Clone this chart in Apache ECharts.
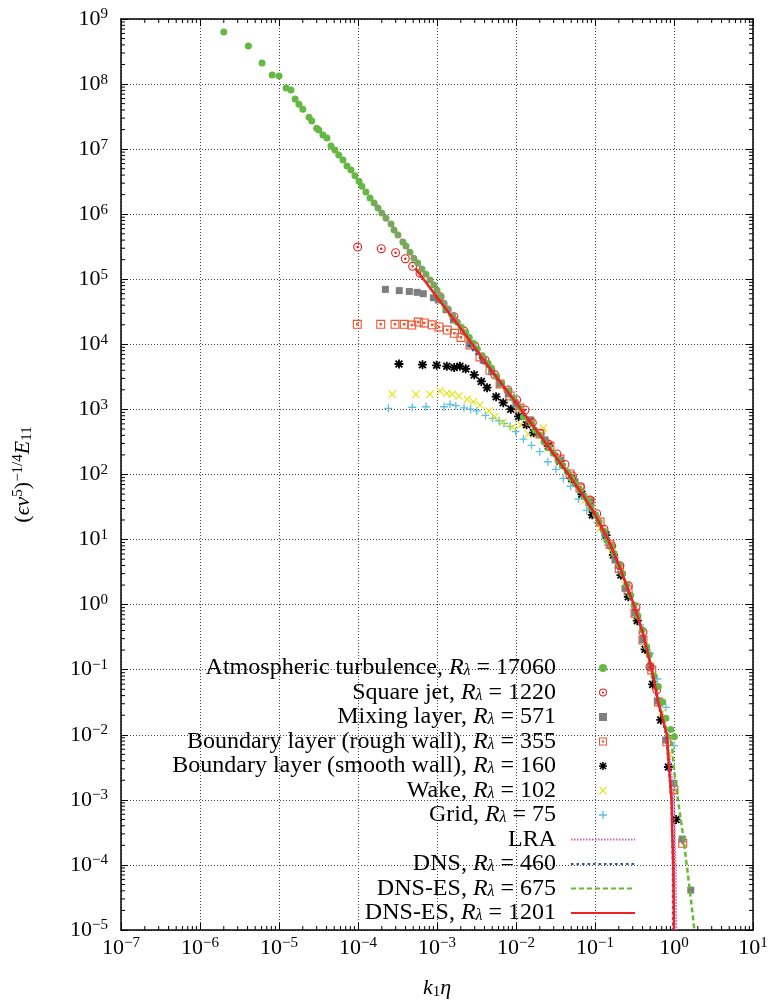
<!DOCTYPE html>
<html>
<head>
<meta charset="utf-8">
<script src="https://cdn.jsdelivr.net/npm/echarts@6.0.0/dist/echarts.min.js"></script>
<style>
  html, body { margin: 0; padding: 0; background: #fff; }
  #chart { width: 768px; height: 1003px; }
</style>
</head>
<body>
<div id="chart"></div>
<script>
// data, [k1*eta, scaled E11]
const atmospheric = [
  [2.0e-6, 6.3e8], [4.1e-6, 3.85e8], [6.1e-6, 2.1e8], [8.2e-6, 1.38e8], [1.0e-5, 1.33e8],
  [1.23e-5, 8.7e7], [1.42e-5, 8.1e7], [1.6e-5, 5.9e7], [1.79e-5, 4.9e7], [2.0e-5, 4.1e7],
  [2.4e-5, 3.1e7], [2.6e-5, 2.7e7], [3.0e-5, 2.1e7], [3.2e-5, 1.97e7], [3.6e-5, 1.65e7],
  [4.05e-5, 1.48e7], [4.55e-5, 1.12e7], [5.1e-5, 9.7e6], [5.7e-5, 8.1e6], [6.45e-5, 6.8e6],
  [7.25e-5, 5.5e6], [8.15e-5, 4.8e6], [9.15e-5, 3.9e6], [1.03e-4, 3.2e6], [1.12e-4, 2.7e6],
  [1.26e-4, 2.2e6], [1.42e-4, 1.77e6], [1.6e-4, 1.49e6], [1.79e-4, 1.25e6], [2.0e-4, 1.04e6],
  [2.26e-4, 8.7e5], [2.62e-4, 7.1e5], [2.86e-4, 5.7e5], [3.2e-4, 4.8e5], [3.7e-4, 3.74e5],
  [4.05e-4, 3.25e5], [4.55e-4, 2.6e5], [5.1e-4, 2.1e5], [5.7e-4, 1.78e5], [6.45e-4, 1.44e5],
  [7.25e-4, 1.2e5], [8.15e-4, 9.75e4], [9.15e-4, 8.2e4], [1.0e-3, 6.8e4], [1.12e-3, 5.5e4],
  [1.23e-3, 4.3e4], [1.39e-3, 3.46e4], [1.58e-3, 2.75e4], [1.81e-3, 2.18e4], [2.03e-3, 1.83e4],
  [2.31e-3, 1.51e4], [2.56e-3, 1.28e4], [2.88e-3, 1.04e4], [3.24e-3, 8.5e3], [3.74e-3, 6.6e3],
  [4.45e-3, 5.1e3], [4.86e-3, 4.3e3], [5.7e-3, 3.2e3], [6.6e-3, 2.5e3], [8.0e-3, 1.94e3],
  [9.25e-3, 1.48e3], [1.1e-2, 1.08e3], [1.24e-2, 7.7e2], [1.58e-2, 6.1e2], [1.74e-2, 4.8e2],
  [2.01e-2, 4.05e2], [2.26e-2, 3.2e2], [2.62e-2, 2.58e2], [2.96e-2, 2.12e2], [3.4e-2, 1.67e2],
  [3.86e-2, 1.36e2], [4.46e-2, 1.1e2], [5.07e-2, 87], [5.74e-2, 71], [6.45e-2, 58],
  [7.26e-2, 46], [8.2e-2, 38], [8.9e-2, 31], [0.102, 24], [0.113, 18.8],
  [0.130, 13.6], [0.141, 9.8], [0.163, 7.8], [0.174, 6.1], [0.203, 4.1],
  [0.224, 3.0], [0.252, 2.0], [0.283, 1.4], [0.312, 0.99], [0.35, 0.67],
  [0.397, 0.41], [0.451, 0.226], [0.486, 0.168], [0.558, 0.080], [0.633, 0.055],
  [0.72, 0.032], [0.79, 0.0179], [0.91, 0.0121], [1.01, 0.0093]
]
const squareJet = [
  [9.9e-5, 3.13e5], [1.97e-4, 2.95e5], [2.99e-4, 2.56e5], [3.97e-4, 2.07e5], [4.92e-4, 1.58e5],
  [6.1e-4, 1.24e5], [1.09e-3, 5.4e4], [1.64e-3, 2.66e4], [2.2e-3, 1.6e4], [3.0e-3, 9.5e3],
  [4.06e-3, 5.7e3], [5.4e-3, 3.4e3], [7.9e-3, 1.99e3], [1.02e-2, 1.4e3], [1.3e-2, 9.8e2],
  [1.61e-2, 6.25e2], [2.01e-2, 4.3e2], [2.56e-2, 2.94e2], [3.3e-2, 2.07e2], [4.17e-2, 1.43e2],
  [5.19e-2, 95], [6.55e-2, 65], [8.65e-2, 40.5], [0.105, 25], [0.13, 14.4],
  [0.163, 8.0], [0.207, 3.96], [0.264, 1.95], [0.33, 0.92], [0.405, 0.38],
  [0.497, 0.11], [0.604, 0.049]
]
const mixingLayer = [
  [2.22e-4, 7.0e4], [3.33e-4, 6.7e4], [4.46e-4, 6.5e4], [5.6e-4, 6.3e4], [6.7e-4, 6.0e4],
  [9.0e-4, 5.2e4], [1.04e-3, 4.8e4], [1.3e-3, 3.4e4], [1.61e-3, 2.37e4], [2.62e-3, 1.01e4],
  [3.85e-3, 5.7e3], [4.92e-3, 3.8e3], [6.26e-3, 2.5e3], [8.0e-3, 1.73e3], [1.0e-2, 1.21e3],
  [1.5e-2, 6.9e2], [2.33e-2, 3.4e2], [3.6e-2, 1.67e2], [5.6e-2, 77], [8.65e-2, 38],
  [0.134, 12.2], [0.179, 4.85], [0.24, 1.78], [0.321, 0.75], [0.402, 0.29],
  [0.507, 0.111], [0.622, 0.033], [0.79, 8.3e-3], [1.0, 1.8e-3], [1.27, 2.5e-4],
  [1.63, 4.1e-5]
]
const roughWall = [
  [9.8e-5, 2.03e4], [1.94e-4, 2.03e4], [2.94e-4, 2.03e4], [3.85e-4, 2.03e4], [4.79e-4, 1.98e4],
  [5.8e-4, 2.2e4], [6.9e-4, 2.13e4], [8.7e-4, 2.0e4], [1.06e-3, 1.85e4], [1.35e-3, 1.66e4],
  [1.66e-3, 1.48e4], [2.01e-3, 1.28e4], [2.62e-3, 9.8e3], [3.5e-3, 6.4e3], [4.69e-3, 4.0e3],
  [6.3e-3, 2.46e3], [8.4e-3, 1.61e3], [1.12e-2, 1.05e3], [1.5e-2, 6.6e2], [2.01e-2, 4.2e2],
  [2.69e-2, 2.74e2], [3.6e-2, 1.73e2], [4.83e-2, 1.02e2], [6.45e-2, 62], [8.65e-2, 38],
  [0.116, 18.6], [0.155, 8.5], [0.203, 3.6], [0.262, 1.68], [0.321, 0.74],
  [0.405, 0.286], [0.523, 0.099], [0.633, 0.032], [0.81, 7.8e-3], [1.0, 1.42e-3],
  [1.29, 2.15e-4]
]
const smoothWall = [
  [3.3e-4, 4.99e3], [6.55e-4, 4.87e3], [9.9e-4, 4.77e3], [1.33e-3, 4.6e3], [1.65e-3, 4.4e3],
  [1.95e-3, 4.6e3], [2.31e-3, 4.2e3], [2.96e-3, 3.4e3], [3.64e-3, 2.69e3], [4.3e-3, 2.16e3],
  [5.6e-3, 1.57e3], [6.9e-3, 1.27e3], [8.6e-3, 1.01e3], [1.08e-2, 7.8e2], [1.36e-2, 5.8e2],
  [1.67e-2, 4.4e2], [2.56e-2, 2.74e2], [3.6e-2, 1.61e2], [5.07e-2, 87], [6.84e-2, 50],
  [9.25e-2, 24], [0.138, 11.7], [0.171, 5.8], [0.213, 2.85], [0.264, 1.32],
  [0.343, 0.57], [0.43, 0.206], [0.537, 0.0596], [0.68, 0.0169], [0.85, 3.2e-3],
  [1.06, 5.0e-4]
]
const wake = [
  [2.72e-4, 1.71e3], [5.4e-4, 1.71e3], [8.15e-4, 1.71e3], [1.09e-3, 1.92e3], [1.33e-3, 1.77e3],
  [1.56e-3, 1.71e3], [1.9e-3, 1.61e3], [2.42e-3, 1.43e3], [2.88e-3, 1.31e3], [3.5e-3, 1.17e3],
  [4.55e-3, 9.5e2], [5.4e-3, 7.7e2], [6.8e-3, 6.3e2], [9.0e-3, 5.3e2], [1.16e-2, 5.8e2],
  [1.43e-2, 4.2e2], [2.22e-2, 5.2e2], [2.56e-2, 2.55e2], [3.6e-2, 1.58e2], [5.1e-2, 82],
  [7.5e-2, 40.5], [0.116, 14.9], [0.164, 6.2], [0.24, 2.0], [0.343, 0.547],
  [0.497, 0.118], [0.698, 0.0214], [0.873, 5.1e-3]
]
const gridTurb = [
  [2.42e-4, 1.04e3], [4.86e-4, 1.08e3], [7.26e-4, 1.1e3], [1.23e-3, 1.1e3], [1.46e-3, 1.2e3],
  [1.73e-3, 1.14e3], [2.2e-3, 1.06e3], [2.67e-3, 1.01e3], [3.18e-3, 9.5e2], [4.1e-3, 8.1e2],
  [5.07e-3, 7.3e2], [6.1e-3, 6.7e2], [7.05e-3, 6.1e2], [8.4e-3, 5.5e2], [9.9e-3, 4.55e2],
  [1.24e-2, 3.5e2], [1.57e-2, 2.81e2], [2.0e-2, 2.24e2], [2.53e-2, 1.57e2], [3.2e-2, 1.2e2],
  [3.97e-2, 87], [4.92e-2, 66], [6.18e-2, 42], [7.85e-2, 28], [0.107, 18.2],
  [0.146, 8.2], [0.195, 3.66], [0.262, 1.4], [0.372, 0.49], [0.497, 0.179],
  [0.615, 0.072], [0.79, 0.0264], [1.0, 6.8e-3]
]
const lra = [
  [1.6e-4, 1.5e6], [2.5e-4, 7.5e5], [4e-4, 3.3e5], [6e-4, 1.6e5], [1e-3, 7e4],
  [2e-3, 1.85e4], [4e-3, 5.6e3], [7e-3, 2.3e3], [1e-2, 1.3e3], [2e-2, 4.1e2],
  [4e-2, 1.3e2], [7e-2, 50], [0.1, 25], [0.15, 9.5], [0.2, 4.2],
  [0.3, 1.15], [0.4, 0.39], [0.52, 0.11], [0.63, 0.034], [0.81, 0.011],
  [0.9, 3.5e-3], [1.0, 1e-3], [1.05, 1e-4], [1.07, 1e-5]
]
const dns460 = [
  [2.5e-3, 9.8e3], [4e-3, 5.2e3], [7e-3, 2.2e3], [1e-2, 1.25e3], [2e-2, 4.0e2],
  [4e-2, 1.25e2], [7e-2, 48], [0.1, 24], [0.15, 9.2], [0.2, 4.0],
  [0.3, 1.1], [0.4, 0.37], [0.52, 0.1], [0.63, 0.031], [0.8, 0.01],
  [0.86, 3.2e-3], [0.93, 1e-3], [0.97, 1e-4], [0.975, 1e-5]
]
const dnsEs675 = [
  [1.2e-3, 3.6e4], [2e-3, 1.75e4], [4e-3, 5.4e3], [7e-3, 2.25e3], [1e-2, 1.28e3],
  [2e-2, 4.05e2], [4e-2, 1.28e2], [7e-2, 49], [0.1, 24.5], [0.15, 9.4],
  [0.2, 4.1], [0.3, 1.12], [0.4, 0.38], [0.52, 0.105], [0.63, 0.033],
  [0.85, 0.01], [0.94, 7.4e-3], [1.0, 2.9e-3], [1.12, 1e-3], [1.29, 3.1e-4],
  [1.45, 1e-4], [1.64, 2.9e-5], [1.81, 1e-5]
]
const dnsEs1201 = [
  [5.3e-4, 1.48e5], [7e-4, 9.5e4], [9.9e-4, 5.4e4], [2e-3, 1.75e4], [4e-3, 5.5e3],
  [7e-3, 2.25e3], [1e-2, 1.28e3], [2e-2, 4.05e2], [4e-2, 1.28e2], [7e-2, 49],
  [0.1, 24.5], [0.15, 9.4], [0.2, 4.1], [0.3, 1.12], [0.4, 0.38],
  [0.52, 0.105], [0.63, 0.032], [0.81, 0.01], [0.865, 3.2e-3], [0.933, 1e-3],
  [0.95, 3.1e-4], [0.98, 1e-4], [1.0, 1e-5]
]

// axis decades and minor tick multipliers
const xDecades = [-7, -6, -5, -4, -3, -2, -1, 0]
const yDecades = [-5, -4, -3, -2, -1, 0, 1, 2, 3, 4, 5, 6, 7, 8]
const minorSteps = [2, 3, 4, 5, 6, 7, 8, 9]

const legendNames = [
  'Atmospheric turbulence', 'Square jet', 'Mixing layer', 'Boundary layer (rough wall)',
  'Boundary layer (smooth wall)', 'Wake', 'Grid', 'LRA', 'DNS 460', 'DNS-ES 675', 'DNS-ES 1201'
]
const legendLabels = {
  'Atmospheric turbulence': '{t|Atmospheric turbulence, }{i|R}{s|λ}{t| = 17060}',
  'Square jet': '{t|Square jet, }{i|R}{s|λ}{t| = 1220}',
  'Mixing layer': '{t|Mixing layer, }{i|R}{s|λ}{t| = 571}',
  'Boundary layer (rough wall)': '{t|Boundary layer (rough wall), }{i|R}{s|λ}{t| = 355}',
  'Boundary layer (smooth wall)': '{t|Boundary layer (smooth wall), }{i|R}{s|λ}{t| = 160}',
  'Wake': '{t|Wake, }{i|R}{s|λ}{t| = 102}',
  'Grid': '{t|Grid, }{i|R}{s|λ}{t| = 75}',
  'LRA': '{t|LRA}',
  'DNS 460': '{t|DNS, }{i|R}{s|λ}{t| = 460}',
  'DNS-ES 675': '{t|DNS-ES, }{i|R}{s|λ}{t| = 675}',
  'DNS-ES 1201': '{t|DNS-ES, }{i|R}{s|λ}{t| = 1201}'
}

const FONT = '"Liberation Serif", "DejaVu Serif", serif'

// marker shapes
const ringDot = 'path://M0,-10A10,10,0,1,1,0,10A10,10,0,1,1,0,-10ZM0,-7.5A7.5,7.5,0,1,0,0,7.5A7.5,7.5,0,1,0,0,-7.5ZM0,-2.8A2.8,2.8,0,1,1,0,2.8A2.8,2.8,0,1,1,0,-2.8Z'
const square = 'path://M-10,-10L10,-10L10,10L-10,10Z'
const squareDot = 'path://M-10,-10L10,-10L10,10L-10,10ZM-7.5,-7.5L-7.5,7.5L7.5,7.5L7.5,-7.5ZM-2.8,-2.8L2.8,-2.8L2.8,2.8L-2.8,2.8Z'
const plus = 'path://M-10,-1.6L10,-1.6L10,1.6L-10,1.6ZM-1.6,-10L1.6,-10L1.6,10L-1.6,10Z'
const cross = 'path://M-10,-8L-8,-10L10,8L8,10ZM8,-10L10,-8L-8,10L-10,8Z'
const asterisk = 'path://M-10,-2L10,-2L10,2L-10,2ZM-2,-10L2,-10L2,10L-2,10ZM-9,-6.2L-6.2,-9L9,6.2L6.2,9ZM6.2,-9L9,-6.2L-6.2,9L-9,6.2Z'

const xMinor = []
xDecades.forEach(d => minorSteps.forEach(m => xMinor.push([m * Math.pow(10, d), 1])))
const yMinor = []
yDecades.forEach(d => minorSteps.forEach(m => yMinor.push([1, m * Math.pow(10, d)])))

function powLabel(v) {
  const e = Math.round(Math.log10(v))
  return '{b|10}{e|' + String(e).replace('-', '\u2212') + '}'
}

const labelRich = {
  b: { fontFamily: FONT, fontSize: 22, lineHeight: 24, color: '#000' },
  e: { fontFamily: FONT, fontSize: 15, lineHeight: 13, verticalAlign: 'top', color: '#000' }
}
const nameRich = {
  t: { fontFamily: FONT, fontSize: 22, lineHeight: 24, color: '#000' },
  i: { fontFamily: FONT, fontSize: 22, fontStyle: 'italic', lineHeight: 24, color: '#000' },
  e: { fontFamily: FONT, fontSize: 15, lineHeight: 13, verticalAlign: 'top', color: '#000' },
  s: { fontFamily: FONT, fontSize: 15, lineHeight: 10, verticalAlign: 'bottom', color: '#000' }
}

const xBase = {
  type: 'log', logBase: 10, min: 1e-7, max: 10, splitNumber: 8, interval: 1,
  axisLine: { show: true, onZero: false, lineStyle: { color: '#000', width: 1.5 } },
  axisTick: { show: true, inside: true, length: 7, lineStyle: { color: '#000', width: 1 } },
  minorTick: { show: false }
}
const yBase = {
  type: 'log', logBase: 10, min: 1e-5, max: 1e9, splitNumber: 14, interval: 1,
  axisLine: { show: true, onZero: false, lineStyle: { color: '#000', width: 1.5 } },
  axisTick: { show: true, inside: true, length: 7, lineStyle: { color: '#000', width: 1 } },
  minorTick: { show: false }
}
const gridLine = { show: true, lineStyle: { color: '#444', width: 1, type: [1, 2] } }

function scatter(name, data, symbol, size, color) {
  return {
    name: name, type: 'scatter', data: data, symbol: symbol, symbolSize: size,
    itemStyle: { color: color, opacity: 1 }, silent: true
  }
}
function curve(name, data, color, width, dash) {
  return {
    name: name, type: 'line', data: data, symbol: 'none', showSymbol: false,
    lineStyle: { color: color, width: width, type: dash },
    itemStyle: { color: 'rgba(0,0,0,0)' }, silent: true
  }
}

const chart = echarts.init(document.getElementById('chart'), null, { renderer: 'canvas' })
chart.setOption({
  animation: false,
  backgroundColor: '#fff',
  grid: { left: 121, right: 15, top: 19, bottom: 73, containLabel: false, outerBoundsMode: 'none' },
  xAxis: [
    Object.assign({}, xBase, {
      position: 'bottom',
      name: '{i|k}{s|1}{i|η}', nameLocation: 'middle', nameGap: 46, nameMoveOverlap: false,
      nameTextStyle: { rich: nameRich },
      axisLabel: { show: true, margin: 6, interval: 0, showMinLabel: true, showMaxLabel: true, hideOverlap: false, formatter: powLabel, rich: labelRich },
      splitLine: gridLine
    }),
    Object.assign({}, xBase, { position: 'top', axisLabel: { show: false }, splitLine: { show: false } })
  ],
  yAxis: [
    Object.assign({}, yBase, {
      position: 'left',
      name: '{t|(}{i|ϵν}{e|5}{t|)}{e|\u22121/4}{i|E}{s|11}', nameLocation: 'middle', nameRotate: 90, nameGap: 86, nameMoveOverlap: false,
      nameTextStyle: { rich: nameRich },
      axisLabel: { show: true, margin: 13, interval: 0, showMinLabel: true, showMaxLabel: true, hideOverlap: false, formatter: powLabel, rich: labelRich },
      splitLine: gridLine
    }),
    Object.assign({}, yBase, { position: 'right', axisLabel: { show: false }, splitLine: { show: false } })
  ],
  legend: {
    data: legendNames,
    orient: 'vertical', align: 'right', right: 132, top: 656, padding: 0,
    itemWidth: 64, itemHeight: 8, itemGap: 0.5, selectedMode: false,
    formatter: name => legendLabels[name],
    textStyle: {
      width: 430, padding: [0, 10, 0, 0],
      rich: {
        t: { fontFamily: FONT, fontSize: 24, lineHeight: 22, align: 'right', color: '#000' },
        i: { fontFamily: FONT, fontSize: 24, fontStyle: 'italic', lineHeight: 22, align: 'right', color: '#000' },
        s: { fontFamily: FONT, fontSize: 16, fontStyle: 'italic', lineHeight: 8, verticalAlign: 'bottom', align: 'right', color: '#000' }
      }
    }
  },
  series: [
    curve('LRA', lra, '#d35fc4', 2, [1.5, 1.5]),
    curve('DNS 460', dns460, '#2f4fb0', 2.5, [2.5, 3]),
    curve('DNS-ES 675', dnsEs675, '#66bb33', 2.5, [5, 3]),
    curve('DNS-ES 1201', dnsEs1201, '#ee2222', 2.5, 'solid'),
    scatter('Grid', gridTurb, plus, 8, '#5bc0e3'),
    scatter('Wake', wake, cross, 8, '#e3e300'),
    scatter('Boundary layer (smooth wall)', smoothWall, asterisk, 9, '#000000'),
    scatter('Boundary layer (rough wall)', roughWall, squareDot, 9, '#ee5530'),
    scatter('Mixing layer', mixingLayer, square, 7, '#7f7f7f'),
    scatter('Square jet', squareJet, ringDot, 9, '#ee2020'),
    scatter('Atmospheric turbulence', atmospheric, 'circle', 7, '#66b845'),
    {
      type: 'custom', name: 'xMinorTicks', data: xMinor, silent: true, clip: false, z: 5,
      renderItem: function (params, api) {
        const cs = params.coordSys
        const x = api.coord([api.value(0), 1])[0]
        const b = cs.y + cs.height
        return {
          type: 'group', children: [
            { type: 'line', shape: { x1: x, y1: b, x2: x, y2: b - 4 }, style: { stroke: '#000', lineWidth: 1 } },
            { type: 'line', shape: { x1: x, y1: cs.y, x2: x, y2: cs.y + 4 }, style: { stroke: '#000', lineWidth: 1 } }
          ]
        }
      }
    },
    {
      type: 'custom', name: 'yMinorTicks', data: yMinor, silent: true, clip: false, z: 5,
      renderItem: function (params, api) {
        const cs = params.coordSys
        const y = api.coord([1, api.value(1)])[1]
        const r = cs.x + cs.width
        return {
          type: 'group', children: [
            { type: 'line', shape: { x1: cs.x, y1: y, x2: cs.x + 4, y2: y }, style: { stroke: '#000', lineWidth: 1 } },
            { type: 'line', shape: { x1: r, y1: y, x2: r - 4, y2: y }, style: { stroke: '#000', lineWidth: 1 } }
          ]
        }
      }
    }
  ]
})
</script>
</body>
</html>
